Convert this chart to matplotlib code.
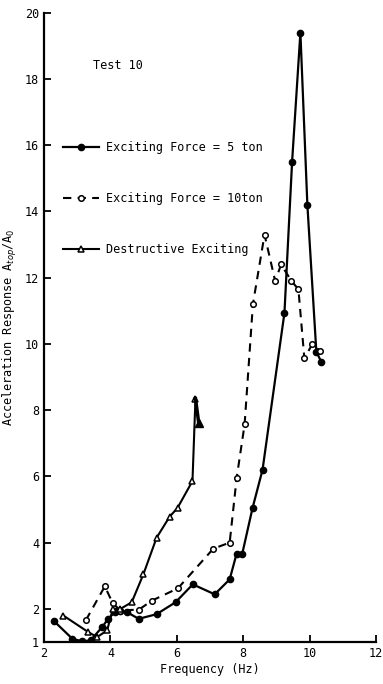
import matplotlib
matplotlib.use("Agg")
import matplotlib.pyplot as plt

# Exciting force = 5 ton (solid, filled circles)
freq_5t = [2.3, 2.85, 3.15, 3.4, 3.75, 3.93, 4.13, 4.3, 4.5, 4.85, 5.39, 5.96,
           6.48, 7.14, 7.59, 7.8, 7.97, 8.28, 8.58, 9.24, 9.47, 9.72, 9.93,
           10.2, 10.35]
resp_5t = [1.63, 1.1, 1.02, 1.05, 1.45, 1.7, 1.9, 1.95, 1.9, 1.7, 1.84, 2.2,
           2.74, 2.44, 2.89, 3.67, 3.67, 5.05, 6.2, 10.94, 15.5, 19.4, 14.2,
           9.77, 9.45]

# Exciting force = 10 ton (dashed, open circles)
freq_10t = [3.26, 3.83, 4.07, 4.3, 4.86, 5.25, 6.03, 7.1, 7.59, 7.8, 8.04,
            8.29, 8.64, 8.96, 9.14, 9.45, 9.66, 9.84, 10.08, 10.3]
resp_10t = [1.66, 2.68, 2.17, 1.95, 1.98, 2.25, 2.62, 3.82, 4.0, 5.95, 7.57,
            11.2, 13.3, 11.9, 12.4, 11.9, 11.65, 9.56, 10.0, 9.8]

# Destructive exciting (solid, open triangles)
freq_dest = [2.58, 3.33, 3.6, 3.9, 4.07, 4.3, 4.64, 4.99, 5.39, 5.78, 6.02,
             6.47, 6.56]
resp_dest = [1.8, 1.3, 1.15, 1.35, 2.0, 2.0, 2.2, 3.04, 4.15, 4.78, 5.05,
             5.86, 8.35]
freq_dest_end = [6.56, 6.66]
resp_dest_end = [8.35, 7.6]

y_ticks = [1, 2, 4, 6, 8, 10, 12, 14, 16, 18, 20]
x_ticks = [2, 4, 6, 8, 10, 12]

plt.rcParams['font.family'] = ['DejaVu Sans Mono']

fig = plt.figure(figsize=(3.83, 6.84), dpi=100)
ax = fig.add_axes([0.115, 0.0614, 0.867, 0.920])

ax.plot(freq_5t, resp_5t, '-', color='black', lw=1.6, marker='o',
        ms=4.5, mfc='black', label='Exciting Force = 5 ton')
ax.plot(freq_10t, resp_10t, '--', color='black', lw=1.5, marker='o',
        ms=4, mfc='white', mew=1.1, dashes=(4, 3),
        label='Exciting Force = 10ton')
ax.plot(freq_dest, resp_dest, '-', color='black', lw=1.5, marker='^',
        ms=5, mfc='white', mew=1.1, label='Destructive Exciting')
ax.plot(freq_dest_end, resp_dest_end, '-', color='black', lw=2.5,
        marker='^', ms=6, mfc='black', markevery=[1])

ax.set_xlim(2, 12)
ax.set_ylim(1, 20)
ax.set_xticks(x_ticks)
ax.set_yticks(y_ticks)
ax.tick_params(direction='in', length=5, width=1.3, labelsize=8.5)
for side in ['top', 'right']:
    ax.spines[side].set_visible(False)
for side in ['left', 'bottom']:
    ax.spines[side].set_linewidth(1.6)

ax.set_xlabel('Frequency (Hz)', fontsize=8.5, labelpad=2)
ax.set_ylabel('Acceleration Response A$_{top}$/A$_0$', fontsize=8.5, labelpad=4)

ax.text(3.47, 18.4, 'Test 10', fontsize=8.5, va='center', ha='left')

ax.legend(loc='upper left', bbox_to_anchor=(0.04, 0.806), frameon=False,
          fontsize=8.5, handlelength=3.0, handletextpad=0.6,
          labelspacing=3.25, borderpad=0)

plt.savefig('out.png', dpi=100)
